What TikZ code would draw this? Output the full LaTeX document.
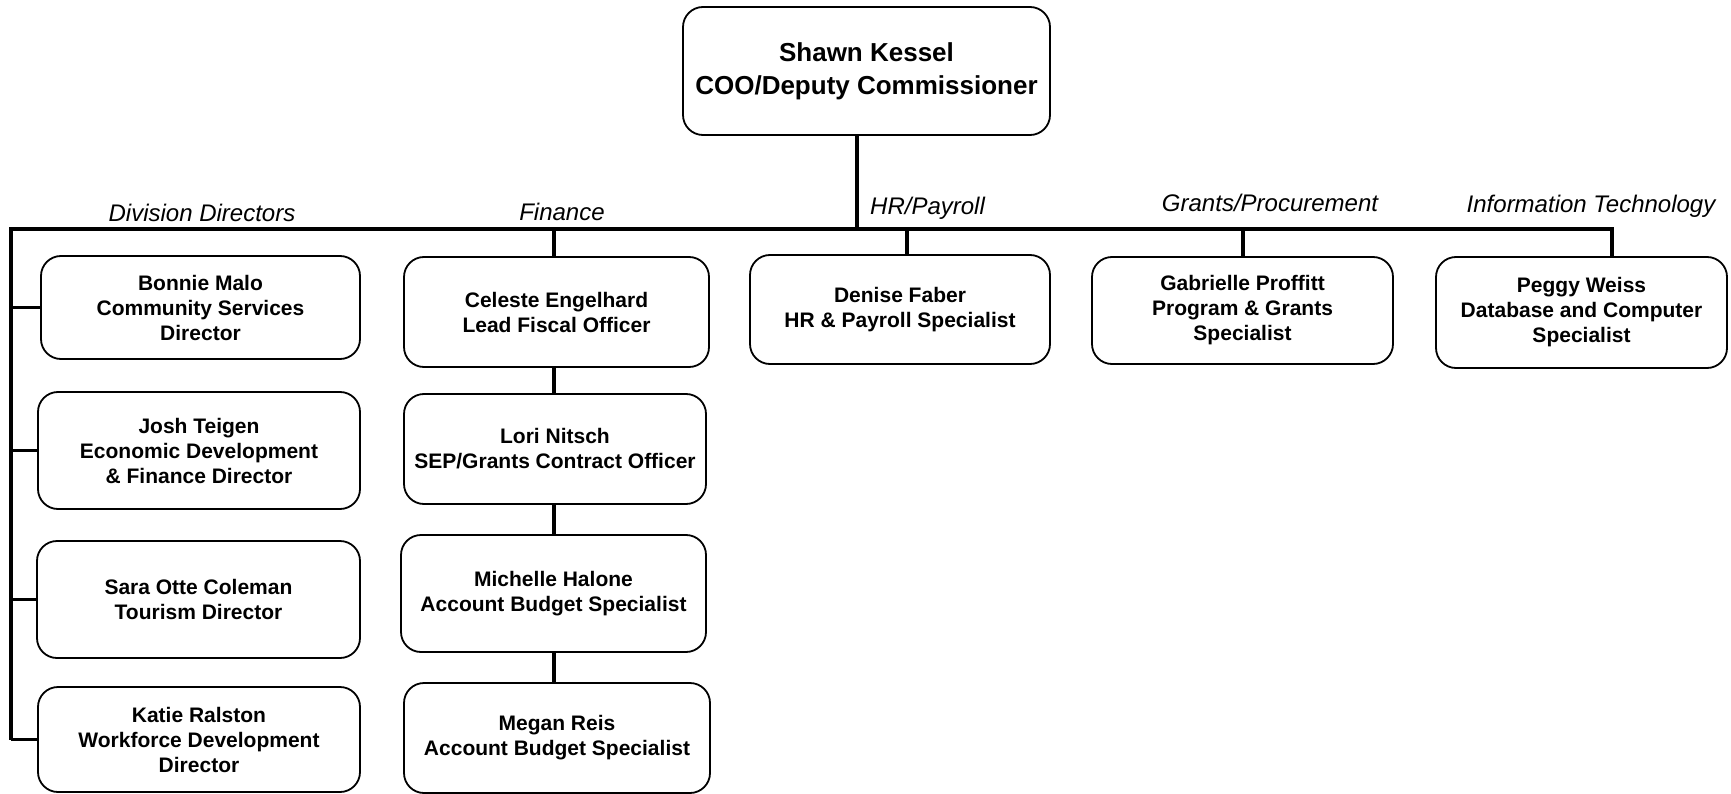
\documentclass[tikz,border=0pt]{standalone}
\usepackage{fontspec}
\setmainfont{Liberation Sans}
\begin{document}
\begin{tikzpicture}[x=1pt,y=-1pt,
  person/.style={draw=black, line width=1.8pt, rounded corners=20pt, inner sep=0pt,
    align=center, font=\bfseries\fontsize{21}{25}\selectfont},
  headbox/.style={person, font=\bfseries\fontsize{26}{33}\selectfont},
  grouplabel/.style={anchor=base, inner sep=0pt, font=\itshape\fontsize{24}{29}\selectfont},
  link/.style={line width=3.5pt, line join=miter}]
\useasboundingbox (0,0) rectangle (1731,794);

% chief
\node[headbox, minimum width=367pt, minimum height=128pt] (coo) at (866.5,71) {Shawn Kessel\\COO/Deputy Commissioner};

% division directors
\node[person, minimum width=319pt, minimum height=103pt] (bonnie) at (200.5,307.5) {Bonnie Malo\\Community Services\\Director};
\node[person, minimum width=322pt, minimum height=117pt] (josh) at (199,450.5) {Josh Teigen\\Economic Development\\\& Finance Director};
\node[person, minimum width=323pt, minimum height=117pt] (sara) at (198.5,599.5) {Sara Otte Coleman\\Tourism Director};
\node[person, minimum width=322pt, minimum height=105pt] (katie) at (199,739.5) {Katie Ralston\\Workforce Development\\Director};

% finance
\node[person, minimum width=305pt, minimum height=110pt] (celeste) at (556.5,312) {Celeste Engelhard\\Lead Fiscal Officer};
\node[person, minimum width=302pt, minimum height=110pt] (lori) at (555,449) {Lori Nitsch\\SEP/Grants Contract Officer};
\node[person, minimum width=305pt, minimum height=117pt] (michelle) at (553.5,593.5) {Michelle Halone\\Account Budget Specialist};
\node[person, minimum width=306pt, minimum height=110pt] (megan) at (557,738) {Megan Reis\\Account Budget Specialist};

% other units
\node[person, minimum width=300pt, minimum height=109pt] (denise) at (900,309.5) {Denise Faber\\HR \& Payroll Specialist};
\node[person, minimum width=301pt, minimum height=107pt] (gabrielle) at (1242.5,310.5) {Gabrielle Proffitt\\Program \& Grants\\Specialist};
\node[person, minimum width=291pt, minimum height=111pt] (peggy) at (1581.5,312.5) {Peggy Weiss\\Database and Computer\\Specialist};

% group labels
\node[grouplabel] (lbldiv) at (202,222) {Division Directors};
\node[grouplabel] (lblfin) at (562,221) {Finance};
\node[grouplabel, anchor=base west] (lblhr) at (870,215) {HR/Payroll};
\node[grouplabel] (lblgr) at (1270,212) {Grants/Procurement};
\node[grouplabel] (lblit) at (1591,213) {Information Technology};

% junction points on the main bar
\coordinate (hub) at (857,229);
\coordinate (barL) at (11,229);
\coordinate (barR) at (1612,229);
\coordinate (fin) at (554,229);
\coordinate (hr) at (907,229);
\coordinate (gr) at (1243,229);

% connectors
\draw[link] (coo.south -| hub) -- (hub);
\draw[link] (barL |- katie.west) -- (barL) -- (barR) -- (barR |- peggy.north);
\foreach \n in {bonnie,josh,sara,katie}
  \draw[link] (barL |- \n.west) -- (\n.west);
\draw[link] (fin) -- (fin |- celeste.north);
\draw[link] (celeste.south -| fin) -- (lori.north -| fin);
\draw[link] (lori.south -| fin) -- (michelle.north -| fin);
\draw[link] (michelle.south -| fin) -- (megan.north -| fin);
\draw[link] (hr) -- (hr |- denise.north);
\draw[link] (gr) -- (gr |- gabrielle.north);
\end{tikzpicture}
\end{document}
